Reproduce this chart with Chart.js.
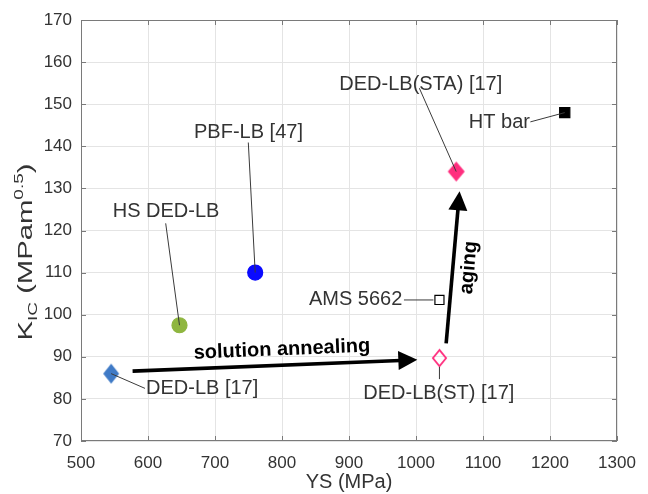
<!DOCTYPE html>
<html>
<head>
<meta charset="utf-8">
<script src="https://cdn.jsdelivr.net/npm/chart.js@4.4.1/dist/chart.umd.min.js"></script>
<style>
    html, body { margin: 0; padding: 0; background: #fff; }
    #wrap { width: 648px; height: 494px; }
</style>
</head>
<body>
<div id="wrap"><canvas id="myChart"></canvas></div>
<script>
// yield strength vs fracture toughness for each material condition
const materials = ['DED-LB [17]', 'HS DED-LB', 'PBF-LB [47]', 'DED-LB(ST) [17]', 'AMS 5662', 'DED-LB(STA) [17]', 'HT bar'];
const ysValues  = [545, 647, 760, 1035, 1035, 1060, 1222];
const kicValues = [86, 97.5, 110, 89.7, 103.5, 134, 148];

const xTicks = [500, 600, 700, 800, 900, 1000, 1100, 1200, 1300];
const yTicks = [70, 80, 90, 100, 110, 120, 130, 140, 150, 160, 170];

// heat treatment steps drawn as arrows (from / to, in YS and KIC units)
const steps    = ['solution annealing', 'aging'];
const stepFrom = [[577, 86.6], [1045, 93.2]];
const stepTo   = [[1002, 89.3], [1065, 129.3]];
const stepText = [[800, 91.7], [1079, 111.2]];

// where each material label sits and where its leader line starts/ends
const labelAt    = [[597, 82.4], [547.3, 124.6], [668.7, 143.4], [921.3, 81.2], [979.6, 103.5], [885.5, 154.8], [1078.8, 145.7]];
const labelAlign = ['left', 'left', 'left', 'left', 'right', 'left', 'left'];
const leaderFrom = [[595.5, 82.5], [626.4, 121.7], [749.7, 140.9], [1035, 84.7], [982, 103.5], [1005, 153.8], [1170.7, 145.8]];
const leaderTo   = [[545, 86], [647, 97.5], [760, 110], [1035, 87.6], [1026, 103.5], [1060, 134], [1222, 148]];

const FONT = '"Liberation Sans", Arial, Helvetica, sans-serif';
const TEXT_COLOR = '#333333';

function makeDiamond(w, h, fill, stroke, lw){
    const c = document.createElement('canvas');
    c.width = w + 2;
    c.height = h + 2;
    const g = c.getContext('2d');
    const cx = c.width / 2, cy = c.height / 2;
    g.beginPath();
    g.moveTo(cx, cy - h / 2 + lw / 2);
    g.lineTo(cx + w / 2 - lw / 2, cy);
    g.lineTo(cx, cy + h / 2 - lw / 2);
    g.lineTo(cx - w / 2 + lw / 2, cy);
    g.closePath();
    if (fill){
        g.fillStyle = fill;
        g.fill();
    }
    if (stroke){
        g.strokeStyle = stroke;
        g.lineWidth = lw;
        g.stroke();
    }
    return c;
}

const markerStyles = [
    {pointStyle: makeDiamond(16, 20, '#3f7ac6', null, 0), radius: 9, bg: '#3f7ac6', border: '#3f7ac6'},
    {pointStyle: 'circle', radius: 7.5, bg: '#8fb640', border: '#8fb640'},
    {pointStyle: 'circle', radius: 7.5, bg: '#0a0aff', border: '#0a0aff'},
    {pointStyle: makeDiamond(15, 18, null, '#ff2e7e', 1.8), radius: 9, bg: 'rgba(0,0,0,0)', border: '#ff2e7e'},
    {pointStyle: 'rect', radius: 6.4, bg: '#ffffff', border: '#000000'},
    {pointStyle: makeDiamond(17, 20, '#ff2e7e', null, 0), radius: 9, bg: '#ff2e7e', border: '#ff2e7e'},
    {pointStyle: 'rect', radius: 7.2, bg: '#000000', border: '#000000'}
];

const datasets = materials.map(function(name, i){
    const st = markerStyles[i];
    return {
        label: name,
        data: [{x: ysValues[i], y: kicValues[i]}],
        pointStyle: st.pointStyle,
        pointRadius: st.radius,
        pointBackgroundColor: st.bg,
        pointBorderColor: st.border,
        pointBorderWidth: 1.2,
        showLine: false
    };
});

function drawArrow(ctx, x0, y0, x1, y1){
    const ang = Math.atan2(y1 - y0, x1 - x0);
    const headLen = 19, headHalf = 9.5;
    const bx = x1 - headLen * Math.cos(ang);
    const by = y1 - headLen * Math.sin(ang);
    ctx.strokeStyle = '#000';
    ctx.lineWidth = 3.6;
    ctx.beginPath();
    ctx.moveTo(x0, y0);
    ctx.lineTo(bx + 2 * Math.cos(ang), by + 2 * Math.sin(ang));
    ctx.stroke();
    ctx.fillStyle = '#000';
    ctx.beginPath();
    ctx.moveTo(x1, y1);
    ctx.lineTo(bx - headHalf * Math.sin(ang), by + headHalf * Math.cos(ang));
    ctx.lineTo(bx + headHalf * Math.sin(ang), by - headHalf * Math.cos(ang));
    ctx.closePath();
    ctx.fill();
}

const annotations = {
    id: 'annotations',
    afterDatasetsDraw(chart){
        const ctx = chart.ctx;
        const xs = chart.scales.x, ys = chart.scales.y;
        const px = v => xs.getPixelForValue(v);
        const py = v => ys.getPixelForValue(v);
        ctx.save();

        // leader lines
        ctx.strokeStyle = '#3a3a3a';
        ctx.lineWidth = 1;
        leaderFrom.forEach(function(p, i){
            ctx.beginPath();
            ctx.moveTo(px(p[0]), py(p[1]));
            ctx.lineTo(px(leaderTo[i][0]), py(leaderTo[i][1]));
            ctx.stroke();
        });

        // material labels
        ctx.fillStyle = TEXT_COLOR;
        ctx.font = '20px ' + FONT;
        ctx.textBaseline = 'middle';
        materials.forEach(function(name, i){
            ctx.textAlign = labelAlign[i];
            ctx.fillText(name, px(labelAt[i][0]), py(labelAt[i][1]));
        });

        // process arrows with their names
        steps.forEach(function(name, i){
            const x0 = px(stepFrom[i][0]), y0 = py(stepFrom[i][1]);
            const x1 = px(stepTo[i][0]), y1 = py(stepTo[i][1]);
            drawArrow(ctx, x0, y0, x1, y1);
            const ang = Math.atan2(y1 - y0, x1 - x0);
            ctx.save();
            ctx.translate(px(stepText[i][0]), py(stepText[i][1]));
            ctx.rotate(ang);
            ctx.fillStyle = '#000';
            ctx.font = 'bold 20px ' + FONT;
            ctx.textAlign = 'center';
            ctx.textBaseline = 'middle';
            ctx.fillText(name, 0, 0);
            ctx.restore();
        });
        ctx.restore();
    },
    afterDraw(chart){
        const ctx = chart.ctx;
        const a = chart.chartArea;
        const xs = chart.scales.x, ys = chart.scales.y;
        ctx.save();

        // axes box with inward ticks
        ctx.strokeStyle = '#7a7a7a';
        ctx.lineWidth = 1;
        ctx.strokeRect(a.left + 0.5, a.top + 0.5, a.right - a.left - 1, a.bottom - a.top - 1);
        const tl = 5;
        ctx.beginPath();
        xTicks.forEach(function(v){
            const x = Math.round(xs.getPixelForValue(v)) + 0.5;
            ctx.moveTo(x, a.bottom);
            ctx.lineTo(x, a.bottom - tl);
            ctx.moveTo(x, a.top);
            ctx.lineTo(x, a.top + tl);
        });
        yTicks.forEach(function(v){
            const y = Math.round(ys.getPixelForValue(v)) + 0.5;
            ctx.moveTo(a.left, y);
            ctx.lineTo(a.left + tl, y);
            ctx.moveTo(a.right, y);
            ctx.lineTo(a.right - tl, y);
        });
        ctx.stroke();

        // y axis title: K_IC (MPam^0.5), stretched along its length
        const parts = [
            {t: 'K', size: 20, dy: 0},
            {t: 'IC', size: 13, dy: 5},
            {t: ' (MPam', size: 20, dy: 0},
            {t: '0.5', size: 13, dy: -9},
            {t: ')', size: 20, dy: 0}
        ];
        let total = 0;
        parts.forEach(function(p){
            ctx.font = p.size + 'px ' + FONT;
            p.w = ctx.measureText(p.t).width;
            total += p.w;
        });
        ctx.translate(32, 252);
        ctx.rotate(-Math.PI / 2);
        ctx.scale(177 / total, 1);
        ctx.fillStyle = TEXT_COLOR;
        ctx.textAlign = 'left';
        ctx.textBaseline = 'alphabetic';
        let cx = -total / 2;
        parts.forEach(function(p){
            ctx.font = p.size + 'px ' + FONT;
            ctx.fillText(p.t, cx, p.dy);
            cx += p.w;
        });
        ctx.restore();
    }
};

const ctx = document.getElementById('myChart').getContext('2d');
const myChart = new Chart(ctx, {
    type: 'scatter',
    data: {datasets: datasets},
    options: {
        responsive: true,
        maintainAspectRatio: false,
        animation: false,
        devicePixelRatio: 1,
        layout: {padding: {left: 0, top: 20, right: 31, bottom: 0}},
        plugins: {
            legend: {display: false},
            tooltip: {enabled: false}
        },
        scales: {
            x: {
                type: 'linear',
                min: xTicks[0],
                max: xTicks[xTicks.length - 1],
                afterBuildTicks: function(axis){
                    axis.ticks = xTicks.map(v => ({value: v}));
                },
                afterFit: function(axis){ axis.height = 53; },
                grid: {color: '#e4e4e4', drawTicks: false},
                border: {display: false},
                ticks: {
                    color: TEXT_COLOR,
                    font: {family: FONT, size: 17},
                    padding: 12,
                    maxRotation: 0,
                    autoSkip: false,
                    callback: v => String(v)
                },
                title: {
                    display: true,
                    text: 'YS (MPa)',
                    color: TEXT_COLOR,
                    font: {family: FONT, size: 20},
                    padding: {top: 0, bottom: 0}
                }
            },
            y: {
                type: 'linear',
                min: yTicks[0],
                max: yTicks[yTicks.length - 1],
                afterBuildTicks: function(axis){
                    axis.ticks = yTicks.map(v => ({value: v}));
                },
                afterFit: function(axis){ axis.width = 81; },
                grid: {color: '#e4e4e4', drawTicks: false},
                border: {display: false},
                ticks: {
                    color: TEXT_COLOR,
                    font: {family: FONT, size: 17},
                    padding: 9,
                    autoSkip: false,
                    callback: v => String(v)
                }
            }
        }
    },
    plugins: [annotations]
});
</script>
</body>
</html>
